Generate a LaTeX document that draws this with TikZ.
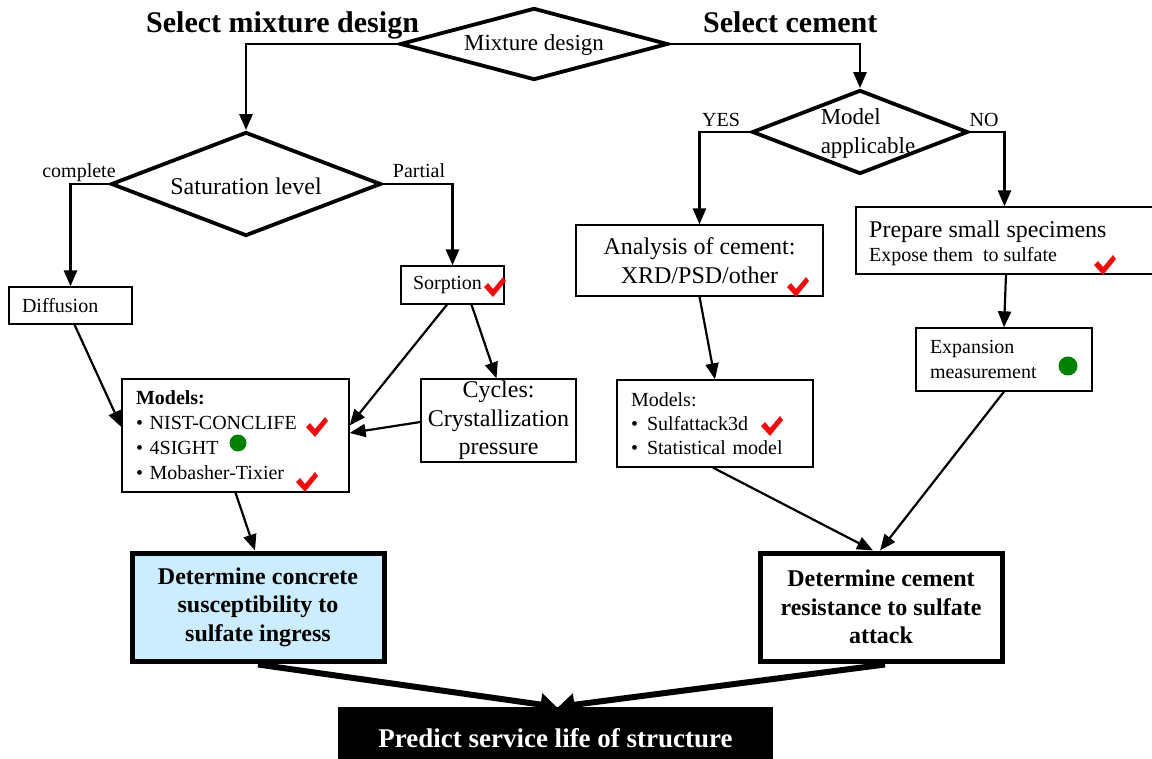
\documentclass[tikz,border=0pt]{standalone}
\usepackage{fontspec}
\setmainfont{Liberation Serif}
\usetikzlibrary{shapes.geometric,arrows.meta,calc}
\definecolor{chkred}{RGB}{240,12,12}
\definecolor{dotgreen}{RGB}{0,128,0}
\definecolor{paleblue}{RGB}{204,236,255}
\newcommand\fsz[2]{\fontsize{#1}{#2}\selectfont}
\newcommand\chkmark[1]{\fill[chkred,shift={#1}] (-11,0) -- (-2,10) -- (11,-6) -- (8,-10) -- (-2,2) -- (-7,-4) -- cycle;}
\tikzset{
  dia/.style={draw, shape=diamond, line width=3.8pt, inner sep=0pt},
  box/.style={draw, line width=1.3pt, inner sep=0pt, fill=white},
  bigbox/.style={draw, line width=5pt, inner sep=0pt, align=center, font=\bfseries\fsz{24}{28.5}},
  conn/.style={line width=2.7pt, -{Triangle[length=16pt,width=13pt]}},
  slant/.style={line width=2.2pt, -{Triangle[length=16pt,width=13pt]}},
  fat/.style={line width=6pt, -{Triangle[length=16pt,width=22pt]}},
  lbl/.style={font=\fsz{20}{24}, anchor=base, inner sep=0pt},
  ttl/.style={font=\bfseries\fsz{30}{36}, anchor=base west, inner sep=0pt}
}
\begin{document}
\begin{tikzpicture}[x=1pt,y=-1pt]
\useasboundingbox (0,0) rectangle (1152,759);
\clip (0,0) rectangle (1152,759);
\fill[white] (0,0) rectangle (1152,759);

% titles
\node[ttl] (t1) at (146,33) {Select mixture design};
\node[ttl] (t2) at (703,33) {Select cement};

% diamonds
\node[dia, minimum width=268pt, minimum height=72pt] (mix) at (534,44) {};
\node[font=\fsz{23}{28}, inner sep=0pt] (mixt) at (534,45) {Mixture design};
\node[dia, minimum width=270pt, minimum height=104pt] (sat) at (246,184) {};
\node[font=\fsz{24}{28}, inner sep=0pt] (satt) at (246,186) {Saturation level};
\node[dia, minimum width=216pt, minimum height=84pt] (mod) at (860,132) {};
\node[font=\fsz{23}{29}, align=left, inner sep=0pt] (modt) at (868,133) {Model\\applicable};

% branch labels
\node[lbl] (lc) at (79,178) {complete};
\node[lbl] (lp) at (419,178) {Partial};
\node[lbl] (ly) at (721,127) {YES};
\node[lbl] (ln) at (984,127) {NO};

% left boxes
\node[box, minimum height=37pt, inner xsep=13pt, text width=97pt, align=left, font=\fsz{20}{24}] (diff) at (70.5,305.5) {Diffusion};
\node[box, minimum height=38pt, inner xsep=12pt, text width=79pt, align=left, font=\fsz{20}{24}] (sorp) at (452.5,285) {Sorption};
\node[box, minimum height=113pt, inner xsep=14pt, text width=199pt, align=left, font=\fsz{20}{25}] (modL) at (235.5,435.5)
  {\textbf{Models:}\\\textbullet{} NIST-CONCLIFE\\\textbullet{} 4SIGHT\\\textbullet{} Mobasher-Tixier};
\node[box, minimum width=155pt, minimum height=83pt, align=center, font=\fsz{24}{28.5}] (cyc) at (498.5,420.5)
  {Cycles:\\Crystallization\\pressure};
\node[bigbox, fill=paleblue, minimum width=252pt, minimum height=108pt] (detC) at (258,607)
  {Determine concrete\\susceptibility to\\sulfate ingress};

% right boxes
\node[box, minimum width=247pt, minimum height=71pt, align=center, font=\fsz{24}{29}] (anal) at (699.5,260.5)
  {Analysis of cement:\\XRD/PSD/other};
\node[box, minimum width=297pt, minimum height=67pt] (prep) at (1004.5,240.5) {};
\node[font=\fsz{24}{28}, anchor=base west, inner sep=0pt] (prept1) at (869,238) {Prepare small specimens};
\node[font=\fsz{20}{24}, anchor=base west, inner sep=0pt] (prept2) at (869,262) {Expose them~ to sulfate};
\node[box, minimum height=63pt, inner xsep=14pt, text width=148pt, align=left, font=\fsz{20}{25}] (exp) at (1004,359.5)
  {Expansion\\measurement};
\node[box, minimum height=87pt, inner xsep=14pt, text width=168pt, align=left, font=\fsz{20}{24}] (modR) at (715,423.5)
  {Models:\\\textbullet\hspace{9pt}Sulfattack3d\\\textbullet\hspace{9pt}Statistical model};
\node[bigbox, fill=white, minimum width=242pt, minimum height=108pt] (detM) at (881,607)
  {Determine cement\\resistance to sulfate\\attack};

% bottom
\node[fill=black, text=white, minimum width=435pt, minimum height=62pt, inner sep=0pt, font=\bfseries\fsz{27}{32}] (pred) at (555.5,738) {Predict service life of structure};

% connectors from diamonds
\draw[conn] (mix.west) -| (sat.north);
\draw[conn] (mix.east) -| (mod.north);
\draw[conn] (sat.west) -| (diff.north);
\draw[conn] (sat.east) -| (sorp.north);
\draw[conn] (mod.west) -| (anal.north);
\draw[conn] (mod.east) -| (prep.north);

% slanted connectors
\draw[slant] ([xshift=4pt]diff.south) -- ([yshift=8.5pt]modL.west);
\draw[slant] ([xshift=-5.5pt]sorp.south) -- ([yshift=10pt]modL.east);
\draw[slant] ([xshift=19pt]sorp.south) -- ([xshift=-2pt]cyc.north);
\draw[slant] ([yshift=-1.5pt]cyc.west) -- ([yshift=2.5pt]modL.east);
\draw[slant] (modL.south) -- ([xshift=-3pt]detC.north);
\draw[slant] (anal.south) -- (modR.north);
\draw[slant] ([xshift=1.5pt]prep.south) -- (exp.north);
\draw[slant] ([xshift=-2pt]modR.south) -- ([xshift=-8pt]detM.north);
\draw[slant] (exp.south) -- ([xshift=-1pt]detM.north);

% thick arrows
\draw[fat] ([yshift=-1pt]detC.south) -- ([xshift=1pt]pred.north);
\draw[fat] ([xshift=4pt,yshift=-1pt]detM.south) -- ([xshift=3pt]pred.north);

% marks
\chkmark{(317,427)}
\chkmark{(307,482)}
\chkmark{(495,287)}
\chkmark{(798,287)}
\chkmark{(1105,265)}
\chkmark{(772,426)}
\fill[dotgreen] (238,443) ellipse (8.5 and 8.5);
\fill[dotgreen] (1068,366) ellipse (9.5 and 9.5);
\end{tikzpicture}
\end{document}
